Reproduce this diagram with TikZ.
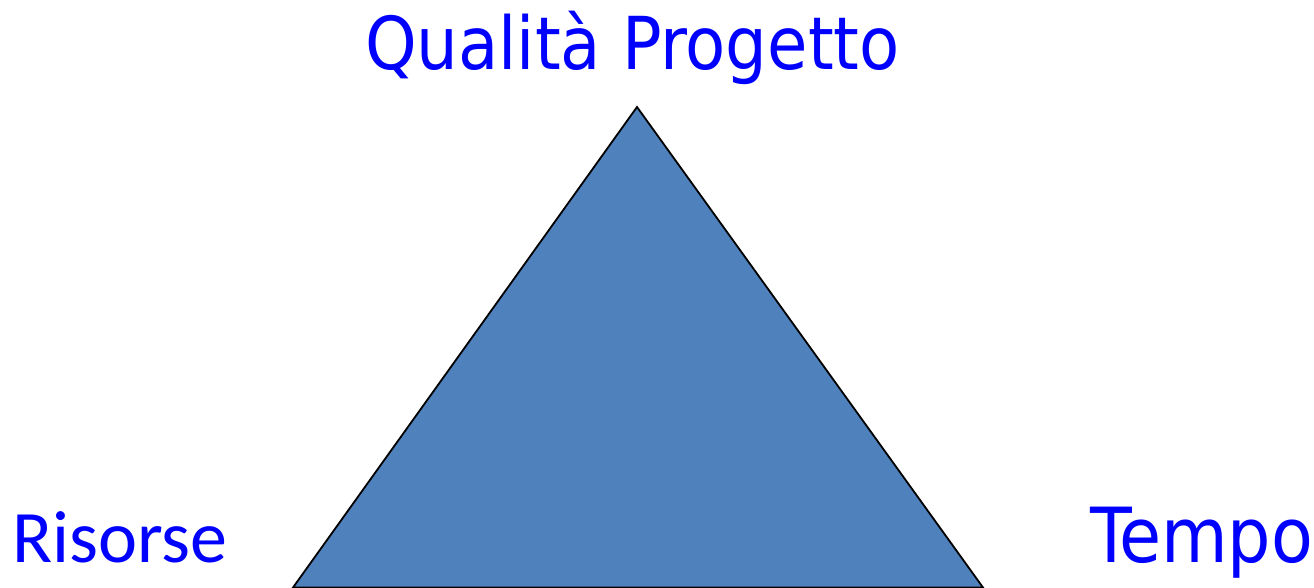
\documentclass[tikz,border=0pt]{standalone}
\usepackage{fontspec}
\setmainfont{DejaVu Sans Condensed}
\newfontfamily\calib{Carlito}
\definecolor{tri}{HTML}{4F81BD}
\definecolor{lbl}{RGB}{0,0,255}
\tikzset{lab/.style={text=lbl, inner sep=0pt, anchor=base west}}
\begin{document}
\begin{tikzpicture}[x=1pt,y=-1pt]
\useasboundingbox (0,0) rectangle (1314,588);
\coordinate (top) at (637,107);
\coordinate (bl) at (293,587.5);
\coordinate (br) at (983,587.5);
\draw[fill=tri, line width=1.8pt, line join=miter] (top) -- (br) -- (bl) -- cycle;
\node[lab, font=\fontsize{73}{73}\selectfont] (q) at (365,70) {Qualità Progetto};
\node[lab, font=\calib\fontsize{74}{74}\selectfont] (r) at (12,562) {Risorse};
\node[lab, font=\fontsize{76}{76}\selectfont] (t) at (1090,562) {Tempo};
\end{tikzpicture}
\end{document}
